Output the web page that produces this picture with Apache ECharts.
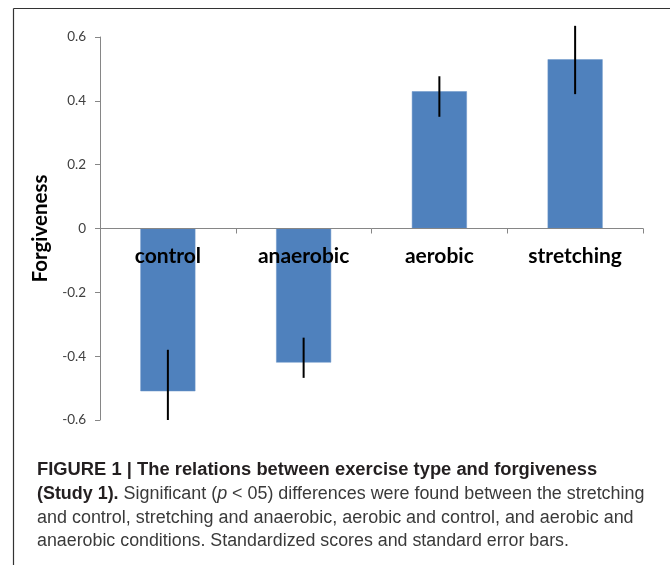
<!DOCTYPE html>
<html>
<head>
<meta charset="utf-8">
<script src="https://cdn.jsdelivr.net/npm/echarts@6/dist/echarts.min.js"></script>
<style>
html,body{margin:0;padding:0;background:#fff;}
#chart{width:670px;height:565px;}
</style>
</head>
<body>
<div id="chart"></div>
<script>
const categories = ['control', 'anaerobic', 'aerobic', 'stretching'];
const means = [-0.51, -0.42, 0.43, 0.53];
const errLow = [-0.60, -0.468, 0.350, 0.421];
const errHigh = [-0.38, -0.342, 0.477, 0.635];
const yTicks = { min: -0.6, max: 0.6, interval: 0.2 };
const yName = 'Forgiveness';
const captionLines = [
  [['FIGURE 1 | The relations between exercise type and forgiveness', 'b']],
  [['(Study 1).', 'b'], [' Significant (', 'r'], ['p', 'i'], [' < 05) differences were found between the stretching', 'r']],
  [['and control, stretching and anaerobic, aerobic and control, and aerobic and', 'r']],
  [['anaerobic conditions. Standardized scores and standard error bars.', 'r']]
];

const chart = echarts.init(document.getElementById('chart'), null, { renderer: 'canvas' });
const capFont = '"Liberation Sans", Arial, sans-serif';
const W = 670, H = 565;
const grid = { left: 100, right: 27, top: 37, bottom: 145 };
const plotH = H - grid.top - grid.bottom;
const zeroOffset = -plotH * (0 - yTicks.min) / (yTicks.max - yTicks.min);

const graphics = [
  { type: 'line', shape: { x1: 13.5, y1: 8.5, x2: 670, y2: 8.5 }, style: { stroke: '#333', lineWidth: 1.2 } },
  { type: 'line', shape: { x1: 13.5, y1: 8.5, x2: 13.5, y2: 565 }, style: { stroke: '#333', lineWidth: 1.2 } }
];
const lineTops = [461, 485, 509, 532];
const lineScale = [1.02, 0.995, 0.997, 0.99];
const capSize = 18;
const rich = {
  b: { fontFamily: capFont, fontWeight: 'bold', fontSize: capSize, fill: '#231f20' },
  r: { fontFamily: capFont, fontSize: capSize, fill: '#3a3a3a' },
  i: { fontFamily: capFont, fontStyle: 'italic', fontSize: capSize, fill: '#3a3a3a' }
};
captionLines.forEach((ln, i) => {
  const txt = ln.map(p => '{' + p[1] + '|' + p[0] + '}').join('');
  graphics.push({
    type: 'text', x: 37, y: lineTops[i], scaleX: lineScale[i],
    style: { text: txt, rich: rich, fontFamily: capFont, fontSize: capSize }
  });
});

chart.setOption({
  animation: false,
  backgroundColor: '#fff',
  grid: Object.assign({ containLabel: false }, grid),
  xAxis: {
    type: 'category',
    data: categories,
    z: 5,
    offset: zeroOffset,
    axisLine: { onZero: false, lineStyle: { color: '#868686', width: 1 } },
    axisTick: { show: true, length: 5, lineStyle: { color: '#868686' } },
    axisLabel: {
      margin: 17, color: '#000', fontSize: 21, fontWeight: 'bold',
      fontFamily: 'Lato, "Open Sans", sans-serif'
    }
  },
  yAxis: {
    type: 'value',
    min: yTicks.min, max: yTicks.max, interval: yTicks.interval,
    name: yName,
    nameLocation: 'middle',
    nameGap: 41,
    nameRotate: 90,
    nameTextStyle: { fontSize: 20.5, fontWeight: 'bold', color: '#000', fontFamily: 'Lato, "Open Sans", sans-serif' },
    splitLine: { show: false },
    axisLine: { show: true, lineStyle: { color: '#868686' } },
    axisTick: { show: true, length: 5, lineStyle: { color: '#868686' } },
    axisLabel: {
      margin: 14, color: '#404040', fontSize: 13.5,
      fontFamily: 'Lato, "Open Sans", sans-serif',
      formatter: v => Math.abs(v) < 1e-9 ? '0' : v.toFixed(1)
    }
  },
  series: [
    {
      type: 'bar',
      data: means,
      barWidth: 55,
      itemStyle: { color: '#4F81BD', borderColor: '#6a95c9', borderWidth: 0.5 }
    },
    {
      type: 'custom',
      z: 4,
      data: categories.map((c, i) => [i, errLow[i], errHigh[i]]),
      renderItem: function (params, api) {
        const lo = api.coord([api.value(0), api.value(1)]);
        const hi = api.coord([api.value(0), api.value(2)]);
        return {
          type: 'line',
          shape: { x1: lo[0], y1: lo[1], x2: hi[0], y2: hi[1] },
          style: { stroke: '#000', lineWidth: 2 }
        };
      }
    }
  ],
  graphic: graphics
});
</script>
</body>
</html>
